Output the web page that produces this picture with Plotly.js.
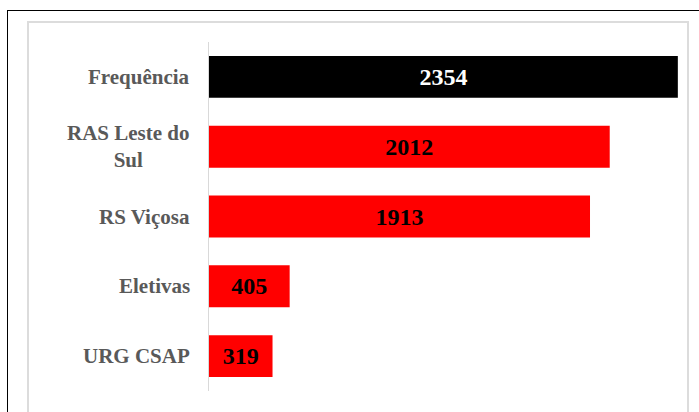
<!DOCTYPE html>
<html>
<head>
<meta charset="utf-8">
<script src="https://cdn.plot.ly/plotly-3.0.1.min.js"></script>
<style>
  html, body { margin: 0; padding: 0; background: #ffffff; }
  #wrap { position: relative; width: 699px; height: 412px; overflow: hidden; background: #ffffff; }
  #outer { position: absolute; left: 7px; top: 10px; width: 800px; height: 500px;
           border-top: 1px solid #000; border-left: 1px solid #000; }
  #inner { position: absolute; left: 27px; top: 21px; width: 658px; height: 500px;
           border: 2px solid #dcdcdc; }
  #chart { position: absolute; left: 0; top: 0; width: 699px; height: 412px; }
</style>
</head>
<body>
<div id="wrap">
  <div id="outer"></div>
  <div id="inner"></div>
  <div id="chart"></div>
</div>
<script>
// Data
const categories = ['Frequência', 'RAS Leste do Sul', 'RS Viçosa', 'Eletivas', 'URG CSAP'];
const tickLabels = ['Frequência', 'RAS Leste do<br>Sul', 'RS Viçosa', 'Eletivas', 'URG CSAP'];
const values = [2354, 2012, 1913, 405, 319];
const barColors = ['#000000', '#ff0000', '#ff0000', '#ff0000', '#ff0000'];
const labelColors = ['#ffffff', '#000000', '#000000', '#000000', '#000000'];

const serif = 'Liberation Serif, Times New Roman, serif';

const trace = {
  type: 'bar',
  orientation: 'h',
  y: categories,
  x: values,
  width: 0.6,
  marker: { color: barColors, line: { width: 0 } },
  text: values.map(v => '<b>' + v + '</b>'),
  texttemplate: '%{text}',
  textposition: 'inside',
  insidetextanchor: 'middle',
  constraintext: 'none',
  textangle: 0,
  textfont: { family: serif, size: 24, color: labelColors },
  hoverinfo: 'none'
};

const annotations = categories.map((c, i) => ({
  xref: 'paper', yref: 'y',
  x: 0, y: c,
  xanchor: 'right', yanchor: 'middle',
  xshift: -17,
  text: '<b>' + tickLabels[i] + '</b>',
  align: 'center',
  showarrow: false,
  font: { family: serif, size: 21, color: '#595959' }
}));

const layout = {
  width: 699, height: 412,
  margin: { l: 209, r: 11.5, t: 42, b: 21, pad: 0 },
  paper_bgcolor: 'rgba(0,0,0,0)',
  plot_bgcolor: 'rgba(0,0,0,0)',
  showlegend: false,
  xaxis: { range: [0, 2400], visible: false, showgrid: false, zeroline: false, fixedrange: true },
  yaxis: {
    type: 'category',
    categoryorder: 'array', categoryarray: categories,
    autorange: 'reversed',
    showticklabels: false, ticks: '',
    showline: true, linecolor: '#d9d9d9', linewidth: 1.5,
    showgrid: false, zeroline: false, fixedrange: true
  },
  annotations: annotations
};

Plotly.newPlot('chart', [trace], layout, { displayModeBar: false, staticPlot: true });
</script>
</body>
</html>
